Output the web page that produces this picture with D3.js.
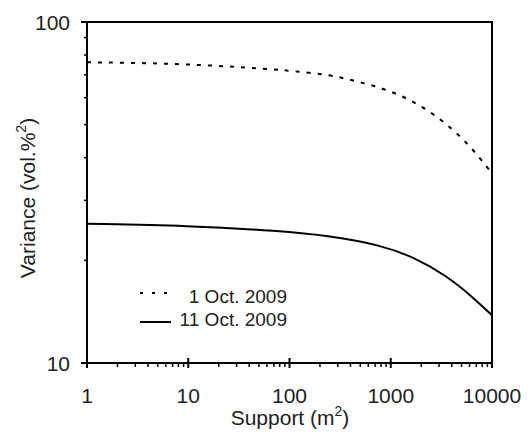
<!DOCTYPE html>
<html>
<head>
<meta charset="utf-8">
<script src="https://cdn.jsdelivr.net/npm/d3@7"></script>
<style>
	body { margin: 0; background: #fff; }
	svg { display: block; font-family: "Liberation Sans", Arial, sans-serif; }
</style>
</head>
<body>
<svg id="chart" width="531" height="433"></svg>
<script>
// support (m2) and variance (vol.%^2)
const oct1Support = [1, 4, 10, 30, 70, 110, 250, 430, 710, 1170, 1870, 2950, 4480, 6530, 9060, 10000];
const oct1Variance = [76.2, 75.8, 75.1, 73.9, 72.6, 71.8, 70.0, 67.3, 64.9, 61.5, 57.4, 52.5, 47.3, 42.2, 37.3, 36.0];
const oct11Support = [1, 10, 80, 250, 780, 1660, 3590, 6460, 10000];
const oct11Variance = [25.6, 25.3, 24.4, 23.6, 22.2, 20.5, 18.0, 15.6, 13.8];
const xTickValues = [1, 10, 100, 1000, 10000];
const yTickValues = [10, 100];
const legendLabels = ['1 Oct. 2009', '11 Oct. 2009'];

const margin = {top: 22, left: 87, right: 39, bottom: 70};
const width = 531 - margin.left - margin.right;
const height = 433 - margin.top - margin.bottom;

const svg = d3.select('#chart');
const g = svg.append('g').attr('transform', `translate(${margin.left},${margin.top})`);

const x = d3.scaleLog().domain([1, 10000]).range([0, width]);
const y = d3.scaleLog().domain([10, 100]).range([height, 0]);

const minorX = [];
for (let d = 1; d < 10000; d *= 10) {
	for (let k = 2; k <= 9; k++) minorX.push(d * k);
}
const minorY = d3.range(20, 100, 10);

// frame
g.append('path')
	.attr('d', `M0,0H${width}V${height}`)
	.attr('fill', 'none')
	.attr('stroke', '#000')
	.attr('stroke-width', 2);

// x axis
const xAxis = g.append('g').attr('transform', `translate(0,${height})`);
xAxis.append('line').attr('x2', width).attr('stroke', '#000').attr('stroke-width', 2);
xAxis.selectAll('.minor').data(minorX).join('line')
	.attr('x1', d => x(d)).attr('x2', d => x(d))
	.attr('y1', 0).attr('y2', 4)
	.attr('stroke', '#000').attr('stroke-width', 1.5);
xAxis.selectAll('.major').data(xTickValues).join('line')
	.attr('x1', d => x(d)).attr('x2', d => x(d))
	.attr('y1', -5).attr('y2', 5)
	.attr('stroke', '#000').attr('stroke-width', 2);
xAxis.selectAll('text').data(xTickValues).join('text')
	.attr('x', d => x(d)).attr('y', 40)
	.attr('text-anchor', 'middle')
	.attr('font-size', 21)
	.attr('fill', '#222')
	.text(d => d);

// y axis
const yAxis = g.append('g');
yAxis.append('line').attr('y2', height).attr('stroke', '#000').attr('stroke-width', 2);
yAxis.selectAll('.minor').data(minorY).join('line')
	.attr('y1', d => y(d)).attr('y2', d => y(d))
	.attr('x1', -3).attr('x2', 0)
	.attr('stroke', '#000').attr('stroke-width', 1.5);
yAxis.selectAll('.major').data(yTickValues).join('line')
	.attr('y1', d => y(d)).attr('y2', d => y(d))
	.attr('x1', -6).attr('x2', 0)
	.attr('stroke', '#000').attr('stroke-width', 2);
yAxis.selectAll('text').data(yTickValues).join('text')
	.attr('x', -17).attr('y', d => y(d) + 8)
	.attr('text-anchor', 'end')
	.attr('font-size', 21)
	.attr('fill', '#222')
	.text(d => d);

// axis titles
const xTitle = svg.append('text')
	.attr('x', 290).attr('y', 425)
	.attr('text-anchor', 'middle')
	.attr('font-size', 21)
	.attr('fill', '#222');
xTitle.append('tspan').text('Support (m');
xTitle.append('tspan').attr('font-size', 14).attr('dy', -9).text('2');
xTitle.append('tspan').attr('dy', 9).text(')');

const yTitle = svg.append('text')
	.attr('transform', 'translate(35,198) rotate(-90)')
	.attr('text-anchor', 'middle')
	.attr('font-size', 21)
	.attr('fill', '#222');
yTitle.append('tspan').text('Variance (vol.%');
yTitle.append('tspan').attr('font-size', 14).attr('dy', -9).text('2');
yTitle.append('tspan').attr('dy', 9).text(')');

// curves
const line = d3.line()
	.x(d => x(d[0]))
	.y(d => y(d[1]))
	.curve(d3.curveBasis);

g.append('path')
	.datum(d3.zip(oct1Support, oct1Variance))
	.attr('d', line)
	.attr('fill', 'none')
	.attr('stroke', '#000')
	.attr('stroke-width', 2)
	.attr('stroke-dasharray', '4 7');

g.append('path')
	.datum(d3.zip(oct11Support, oct11Variance))
	.attr('d', line)
	.attr('fill', 'none')
	.attr('stroke', '#000')
	.attr('stroke-width', 2);

// legend
const legend = svg.append('g');
const legendRows = [
	{label: legendLabels[0], dashed: true, lineY: 293, textY: 302.5},
	{label: legendLabels[1], dashed: false, lineY: 322, textY: 326}
];
legend.selectAll('line').data(legendRows).join('line')
	.attr('x1', 140).attr('x2', d => d.dashed ? 167 : 171)
	.attr('y1', d => d.lineY).attr('y2', d => d.lineY)
	.attr('stroke', '#000')
	.attr('stroke-width', 2)
	.attr('stroke-dasharray', d => d.dashed ? '3 9' : null);
legend.selectAll('text').data(legendRows).join('text')
	.attr('x', 287).attr('y', d => d.textY)
	.attr('text-anchor', 'end')
	.attr('font-size', 19)
	.attr('fill', '#222')
	.text(d => d.label);
</script>
</body>
</html>
